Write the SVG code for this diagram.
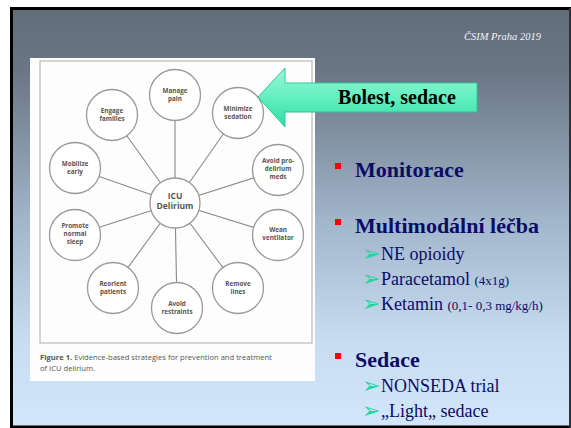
<svg xmlns="http://www.w3.org/2000/svg" width="571" height="428" viewBox="0 0 571 428">
<defs>
<linearGradient id="bg" x1="0" y1="0" x2="0" y2="1">
<stop offset="0" stop-color="#636d7a"/>
<stop offset="0.15" stop-color="#6b7684"/>
<stop offset="0.5" stop-color="#a0b4ca"/>
<stop offset="0.8" stop-color="#c8dcf2"/>
<stop offset="1" stop-color="#d3e7fb"/>
</linearGradient>
<linearGradient id="arr" x1="0" y1="0" x2="0" y2="1">
<stop offset="0" stop-color="#9af7d6"/>
<stop offset="0.5" stop-color="#63efc0"/>
<stop offset="1" stop-color="#2fdca3"/>
</linearGradient>
<style>
.n circle{fill:#fff;stroke:#9a9a9a;stroke-width:1.3}
.n text{font-family:"Open Sans","Liberation Sans",sans-serif;font-size:6.3px;font-weight:bold;fill:#555;text-anchor:middle}
.c line{stroke:#8a8a8a;stroke-width:1.1}
.serif{font-family:"Liberation Serif","Times New Roman",serif}
.h{font-family:"Liberation Serif","Times New Roman",serif;font-weight:bold;font-size:22px;fill:#0c0c66}
.s{font-family:"Liberation Serif","Times New Roman",serif;font-size:18px;fill:#0c0c66}
.sm{font-size:13px}
.b{fill:#ff0000}
.g{font-family:"DejaVu Sans",sans-serif;font-size:22px;fill:#22d69a}
.cap{font-family:"Open Sans","Liberation Sans",sans-serif;font-size:7.6px;fill:#555}
</style>
</defs>
<rect x="0" y="0" width="571" height="428" fill="#ffffff"/>
<rect x="11.5" y="8.5" width="559" height="418.5" fill="url(#bg)" stroke="#000" stroke-width="3"/>
<line x1="570" y1="8" x2="570" y2="428" stroke="#3a4350" stroke-width="1.5"/>
<text class="serif" x="541" y="40" text-anchor="end" font-style="italic" font-size="10.5" fill="#f2f2f2">ČSIM Praha 2019</text>

<rect x="30" y="58" width="285" height="323" fill="#fdfdfd"/>
<rect x="40" y="61" width="272" height="282" fill="none" stroke="#ababab" stroke-width="1"/>

<g id="connectors" class="c">
<line x1="175" y1="203" x2="175" y2="95"/>
<line x1="175" y1="203" x2="112" y2="115"/>
<line x1="175" y1="203" x2="238" y2="113"/>
<line x1="175" y1="203" x2="75" y2="168"/>
<line x1="175" y1="203" x2="278" y2="170"/>
<line x1="175" y1="203" x2="75" y2="235"/>
<line x1="175" y1="203" x2="278" y2="235"/>
<line x1="175" y1="203" x2="113" y2="288"/>
<line x1="175" y1="203" x2="177" y2="308"/>
<line x1="175" y1="203" x2="238" y2="288"/>
</g>

<g id="manage-pain" class="n"><circle cx="175" cy="95" r="25.5"/><text x="175" y="93">Manage</text><text x="175" y="101">pain</text></g>
<g id="engage-families" class="n"><circle cx="112" cy="115" r="25.5"/><text x="112" y="113">Engage</text><text x="112" y="121">families</text></g>
<g id="minimize-sedation" class="n"><circle cx="238" cy="113" r="25.5"/><text x="238" y="111">Minimize</text><text x="238" y="119">sedation</text></g>
<g id="mobilize-early" class="n"><circle cx="75" cy="168" r="25.5"/><text x="75" y="166">Mobilize</text><text x="75" y="174">early</text></g>
<g id="avoid-meds" class="n"><circle cx="278" cy="170" r="25.5"/><text x="278" y="163">Avoid pro-</text><text x="278" y="171">delirium</text><text x="278" y="179">meds</text></g>
<g id="icu-delirium" class="n"><circle cx="175" cy="203" r="25"/><text x="175" y="199" style="font-size:8.5px">ICU</text><text x="175" y="209" style="font-size:8.5px">Delirium</text></g>
<g id="promote-sleep" class="n"><circle cx="75" cy="235" r="25.5"/><text x="75" y="228">Promote</text><text x="75" y="236">normal</text><text x="75" y="244">sleep</text></g>
<g id="wean-ventilator" class="n"><circle cx="278" cy="235" r="25.5"/><text x="278" y="232">Wean</text><text x="278" y="240">ventilator</text></g>
<g id="reorient-patients" class="n"><circle cx="113" cy="288" r="25.5"/><text x="113" y="286">Reorient</text><text x="113" y="294">patients</text></g>
<g id="avoid-restraints" class="n"><circle cx="177" cy="308" r="25.5"/><text x="177" y="306">Avoid</text><text x="177" y="314">restraints</text></g>
<g id="remove-lines" class="n"><circle cx="238" cy="288" r="25.5"/><text x="238" y="286">Remove</text><text x="238" y="294">lines</text></g>

<text class="cap" x="40" y="360"><tspan font-weight="bold">Figure 1.</tspan> Evidence-based strategies for prevention and treatment</text>
<text class="cap" x="40" y="371">of ICU delirium.</text>

<g id="arrow">
<polygon points="258,97 285,68 285,83 477,83 477,112 285,112 285,127" fill="url(#arr)" stroke="#2cc898" stroke-width="1"/>
<text class="serif" x="397" y="104" text-anchor="middle" font-weight="bold" font-size="20" fill="#000">Bolest, sedace</text>
</g>

<rect class="b" x="335" y="163" width="6" height="6"/>
<text class="h" x="355" y="177">Monitorace</text>
<rect class="b" x="335" y="219" width="6" height="6"/>
<text class="h" x="355" y="233">Multimodální léčba</text>
<text class="g" x="362" y="261">➢</text><text class="s" x="381" y="260">NE opioidy</text>
<text class="g" x="362" y="286">➢</text><text class="s" x="381" y="285">Paracetamol <tspan class="sm">(4x1g)</tspan></text>
<text class="g" x="362" y="311">➢</text><text class="s" x="381" y="310">Ketamin <tspan class="sm">(0,1- 0,3 mg/kg/h)</tspan></text>
<rect class="b" x="335" y="353" width="6" height="6"/>
<text class="h" x="355" y="367">Sedace</text>
<text class="g" x="362" y="393">➢</text><text class="s" x="381" y="392">NONSEDA trial</text>
<text class="g" x="362" y="418">➢</text><text class="s" x="381" y="417">„Light„ sedace</text>
</svg>
